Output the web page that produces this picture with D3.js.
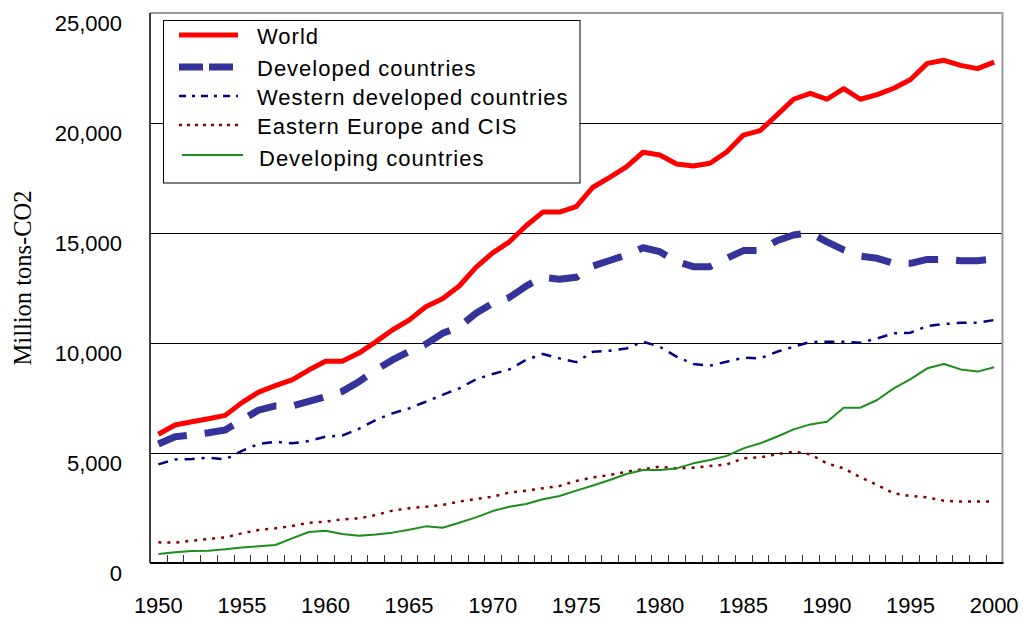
<!DOCTYPE html>
<html>
<head>
<meta charset="utf-8">
<script src="https://cdn.jsdelivr.net/npm/d3@7"></script>
<style>
  html, body { margin: 0; padding: 0; background: #fff; }
  svg { display: block; }
</style>
</head>
<body>
<div class="container_graph"></div>
<script>
// datos (millones de toneladas de CO2)
const years = d3.range(1950, 2001);

const world = [5850, 6270, 6420, 6560, 6710, 7290, 7770, 8060, 8320, 8770,
  9170, 9170, 9540, 10050, 10590, 11040, 11650, 12010, 12590, 13440,
  14100, 14600, 15330, 15950, 15950, 16200, 17080, 17530, 18010, 18670,
  18545, 18140, 18045, 18170, 18680, 19450, 19650, 20360, 21080, 21350,
  21080, 21560, 21080, 21290, 21580, 21980, 22710, 22850, 22620, 22470, 22770];

const developed = [5410, 5740, 5820, 5920, 6045, 6500, 6950, 7140, 7140, 7350,
  7560, 7800, 8240, 8770, 9230, 9610, 9950, 10440, 10740, 11350,
  11800, 12070, 12590, 12985, 12895, 12985, 13500, 13750, 14000, 14330,
  14150, 13700, 13470, 13470, 13850, 14200, 14200, 14650, 14910, 15010,
  14600, 14230, 13950, 13850, 13620, 13620, 13800, 13800, 13740, 13740, 13830];

const western = [4485, 4710, 4730, 4790, 4710, 5100, 5410, 5510, 5440, 5545,
  5740, 5790, 6100, 6500, 6800, 7030, 7330, 7640, 7940, 8350,
  8590, 8800, 9230, 9500, 9300, 9130, 9600, 9650, 9750, 10060,
  9830, 9380, 9045, 8970, 9150, 9330, 9300, 9600, 9830, 10045,
  10060, 10060, 10015, 10210, 10440, 10470, 10770, 10860, 10920, 10920, 11045];

const eastern = [940, 925, 1015, 1090, 1165, 1350, 1500, 1575, 1680, 1830,
  1880, 1985, 2030, 2180, 2380, 2485, 2560, 2640, 2790, 2910,
  3015, 3200, 3290, 3395, 3500, 3730, 3890, 4000, 4150, 4260,
  4380, 4300, 4330, 4410, 4480, 4760, 4800, 4940, 5060, 4940,
  4530, 4300, 3895, 3545, 3165, 3045, 2985, 2830, 2790, 2790, 2790];

const developing = [410, 485, 545, 560, 620, 700, 760, 820, 1120, 1410,
  1470, 1320, 1240, 1300, 1380, 1515, 1665, 1605, 1830, 2075,
  2360, 2560, 2680, 2895, 3045, 3290, 3520, 3770, 4045, 4230,
  4230, 4300, 4530, 4680, 4870, 5210, 5440, 5740, 6075, 6300,
  6425, 7060, 7060, 7410, 7940, 8360, 8850, 9045, 8800, 8700, 8895];

const yTicks = [0, 5000, 10000, 15000, 20000, 25000];
const xLabels = [1950, 1955, 1960, 1965, 1970, 1975, 1980, 1985, 1990, 1995, 2000];

const seriesNames = ["World", "Developed countries", "Western developed countries",
  "Eastern Europe and CIS", "Developing countries"];

// estilos de cada serie
const styles = [
  { values: world, color: "#ff0000", width: 5, dash: null, legendDash: null },
  { values: developed, color: "#333399", width: 7, dash: "30,18", legendDash: "24,6" },
  { values: western, color: "#000080", width: 2.5, dash: "10,7,3,7", legendDash: "7,6,3,6" },
  { values: eastern, color: "#800000", width: 2.5, dash: "3,6", legendDash: "3,5" },
  { values: developing, color: "#1a8f1a", width: 2, dash: null, legendDash: null }
];

// medidas
const width = 1023;
const height = 619;
const margin = { top: 13, right: 20.5, bottom: 56, left: 150 };
const plotRight = width - margin.right;
const plotBottom = height - margin.bottom;

const svg = d3
  .select(".container_graph")
  .append("svg")
  .attr("width", width)
  .attr("height", height)
  .style("font-family", "'Liberation Sans', Arial, sans-serif");

// escalas
const x = d3.scaleBand().domain(years).range([margin.left, plotRight]).paddingInner(0).paddingOuter(0);
const cx = (yr) => x(yr) + x.bandwidth() / 2;
const y = d3.scaleLinear().domain([0, 25000]).range([plotBottom, margin.top]);

// lineas de cuadricula
svg
  .append("g")
  .selectAll("line")
  .data(yTicks.filter((d) => d > 0 && d < 25000))
  .join("line")
  .attr("x1", margin.left)
  .attr("x2", plotRight)
  .attr("y1", (d) => Math.round(y(d)) + 0.5)
  .attr("y2", (d) => Math.round(y(d)) + 0.5)
  .attr("stroke", "#000")
  .attr("stroke-width", 1.2);

// borde superior y derecho (gris)
svg
  .append("path")
  .attr("d", `M${margin.left},${margin.top} H${plotRight} V${plotBottom}`)
  .attr("fill", "none")
  .attr("stroke", "#9a9a9a")
  .attr("stroke-width", 2);

// marcas del eje x (hacia dentro, entre categorias)
svg
  .append("g")
  .selectAll("line")
  .data(years.slice(1))
  .join("line")
  .attr("x1", (d) => Math.round(x(d)) + 0.5)
  .attr("x2", (d) => Math.round(x(d)) + 0.5)
  .attr("y1", plotBottom - 8)
  .attr("y2", plotBottom)
  .attr("stroke", "#333")
  .attr("stroke-width", 1);

// ejes
svg
  .append("line")
  .attr("x1", margin.left)
  .attr("x2", margin.left)
  .attr("y1", margin.top)
  .attr("y2", plotBottom)
  .attr("stroke", "#000")
  .attr("stroke-width", 1.5);

svg
  .append("line")
  .attr("x1", margin.left)
  .attr("x2", plotRight + 1)
  .attr("y1", plotBottom)
  .attr("y2", plotBottom)
  .attr("stroke", "#000")
  .attr("stroke-width", 2);

// etiquetas del eje y
svg
  .append("g")
  .selectAll("text")
  .data(yTicks)
  .join("text")
  .attr("x", 122)
  .attr("y", (d) => y(d) + 18)
  .attr("text-anchor", "end")
  .style("font-size", "22px")
  .attr("fill", "#000")
  .text((d) => d3.format(",")(d));

// etiquetas del eje x
svg
  .append("g")
  .selectAll("text")
  .data(xLabels)
  .join("text")
  .attr("x", (d) => cx(d))
  .attr("y", 613)
  .attr("text-anchor", "middle")
  .style("font-size", "22px")
  .attr("fill", "#000")
  .text((d) => d);

// titulo del eje y
svg
  .append("text")
  .attr("transform", "translate(30.5,278) rotate(-90)")
  .attr("text-anchor", "middle")
  .style("font-family", "'Liberation Serif', 'Times New Roman', serif")
  .style("font-size", "24.5px")
  .text("Million tons-CO2");

// lineas de las series
const line = d3
  .line()
  .x((d, i) => cx(years[i]))
  .y((d) => y(d));

svg
  .append("g")
  .selectAll("path")
  .data(styles)
  .join("path")
  .attr("d", (d) => line(d.values))
  .attr("fill", "none")
  .attr("stroke", (d) => d.color)
  .attr("stroke-width", (d) => d.width)
  .attr("stroke-dasharray", (d) => d.dash)
  .attr("stroke-linejoin", "round");

// leyenda
const legend = svg.append("g").attr("id", "legend");

legend
  .append("rect")
  .attr("x", 163.5)
  .attr("y", 20.5)
  .attr("width", 416.5)
  .attr("height", 162.5)
  .attr("fill", "#fff")
  .attr("stroke", "#000")
  .attr("stroke-width", 1);

const rowY = [36, 68, 97, 126, 158];

const item = legend
  .selectAll("g")
  .data(styles)
  .join("g")
  .attr("transform", (d, i) => `translate(0,${rowY[i]})`);

item
  .append("line")
  .attr("x1", (d, i) => (i === 4 ? 182 : 179))
  .attr("x2", (d, i) => (i === 4 ? 243 : 238))
  .attr("y1", (d, i) => (i === 4 ? -3 : -1))
  .attr("y2", (d, i) => (i === 4 ? -3 : -1))
  .attr("stroke", (d) => d.color)
  .attr("stroke-width", (d) => d.width)
  .attr("stroke-dasharray", (d) => d.legendDash);

item
  .append("text")
  .attr("x", (d, i) => (i === 4 ? 259 : 257))
  .attr("y", 8)
  .style("font-size", "22px")
  .style("letter-spacing", "1px")
  .attr("fill", "#000")
  .text((d, i) => seriesNames[i]);
</script>
</body>
</html>
